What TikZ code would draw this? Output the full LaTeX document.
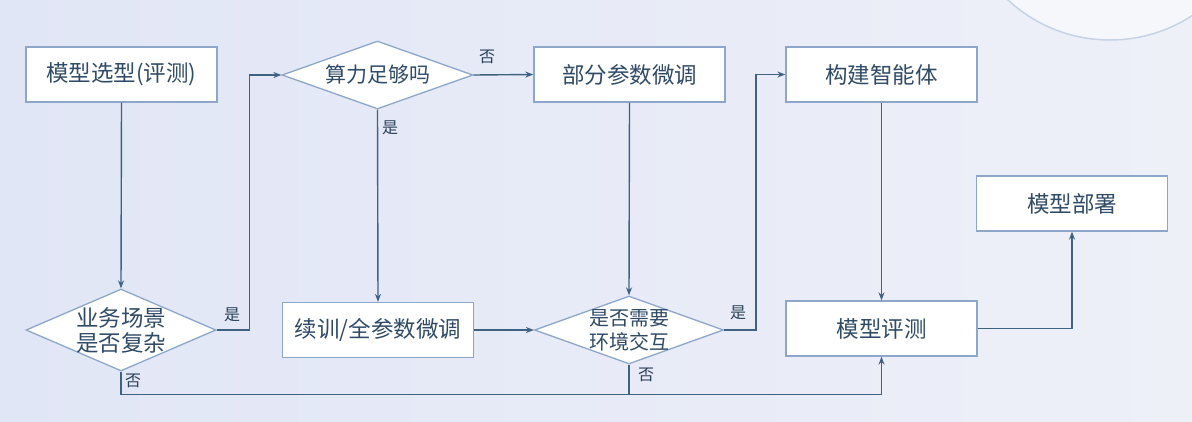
\documentclass[tikz,border=0pt]{standalone}
\usepackage{fontspec}
\setmainfont{Noto Sans CJK SC}
\usetikzlibrary{shapes.geometric,arrows.meta}

\definecolor{linec}{HTML}{3F6283}
\definecolor{boxline}{HTML}{8DA7CB}
\definecolor{txt}{HTML}{2F4B68}
\definecolor{bgl}{HTML}{E1E6F6}
\definecolor{bgr}{HTML}{EEF0F8}

\begin{document}
\begin{tikzpicture}[x=1pt,y=-1pt,
	box/.style={shape=rectangle,draw=boxline,fill=white,line width=1.3pt,minimum width=191pt,minimum height=55pt,inner sep=0pt,text=txt,font=\fontsize{22.5}{26}\selectfont},
	dia/.style={shape=diamond,draw=boxline,fill=white,line width=1.3pt,inner sep=0pt},
	diatext/.style={align=center,inner sep=0pt,text=txt},
	flow/.style={draw=linec,line width=1.4pt,-{Stealth[length=8pt,width=6pt]}},
	plain/.style={draw=linec,line width=1.4pt},
	tag/.style={text=txt!85!black,font=\fontsize{16}{16}\selectfont}]
	
	\useasboundingbox (0,0) rectangle (1192,421);
	\clip (0,0) rectangle (1192,421);
	\fill[left color=bgl,right color=bgr] (0,0) rectangle (1192,421);
	\draw[draw=boxline!50,line width=1.5pt,fill=white,fill opacity=0.5] (1110,-110) circle[radius=150pt];
	
	\node[box] (sel)    at (121.5,74.5)  {模型选型(评测)};
	\node[dia,minimum width=191pt,minimum height=68pt] (cp) at (377.5,75) {};
	\node[diatext,font=\fontsize{21}{24}\selectfont] (cpt) at (cp.center) {算力足够吗};
	\node[box] (part)   at (629.5,74.5)  {部分参数微调};
	\node[box] (agent)  at (881.5,74.5)  {构建智能体};
	\node[box] (deploy) at (1072,203.5)  {模型部署};
	\node[dia,minimum width=190pt,minimum height=82pt] (cplx) at (121,330) {};
	\node[diatext,font=\fontsize{22.5}{25}\selectfont] (cplxt) at (cplx.center) {业务场景\\是否复杂};
	\node[box] (full)   at (378,330)     {续训/全参数微调};
	\node[dia,minimum width=189pt,minimum height=68pt] (env) at (629,330) {};
	\node[diatext,font=\fontsize{20}{24}\selectfont] (envt) at (env.center) {是否需要\\环境交互};
	\node[box] (eval)   at (881.5,328.5) {模型评测};
	\coordinate (join) at (629,394);
	
	\draw[flow] (sel.south) -- (cplx.north);
	\draw[flow] (cplx.east) -- ++(33,0) |- (cp.west);
	\draw[flow] (cp.east) -- (part.west);
	\draw[flow] (cp.south) -- (full.north);
	\draw[flow] (part.south) -- (env.north);
	\draw[flow] (full.east) -- (env.west);
	\draw[flow] (env.east) -- ++(32,0) |- (agent.west);
	\draw[flow] (agent.south) -- (eval.north);
	\draw[flow] (eval.east) -| (deploy.south);
	\draw[flow] (cplx.south) -- ++(0,23) -| (eval.south);
	\draw[plain] (env.south) -- (join);
	
	\node[tag] (y1) at (232,315) {是};
	\node[tag] (n1) at (487,57)  {否};
	\node[tag] (y2) at (390,128) {是};
	\node[tag] (y3) at (738,313) {是};
	\node[tag] (n2) at (133,381) {否};
	\node[tag] (n3) at (646,375) {否};
	
\end{tikzpicture}
\end{document}
